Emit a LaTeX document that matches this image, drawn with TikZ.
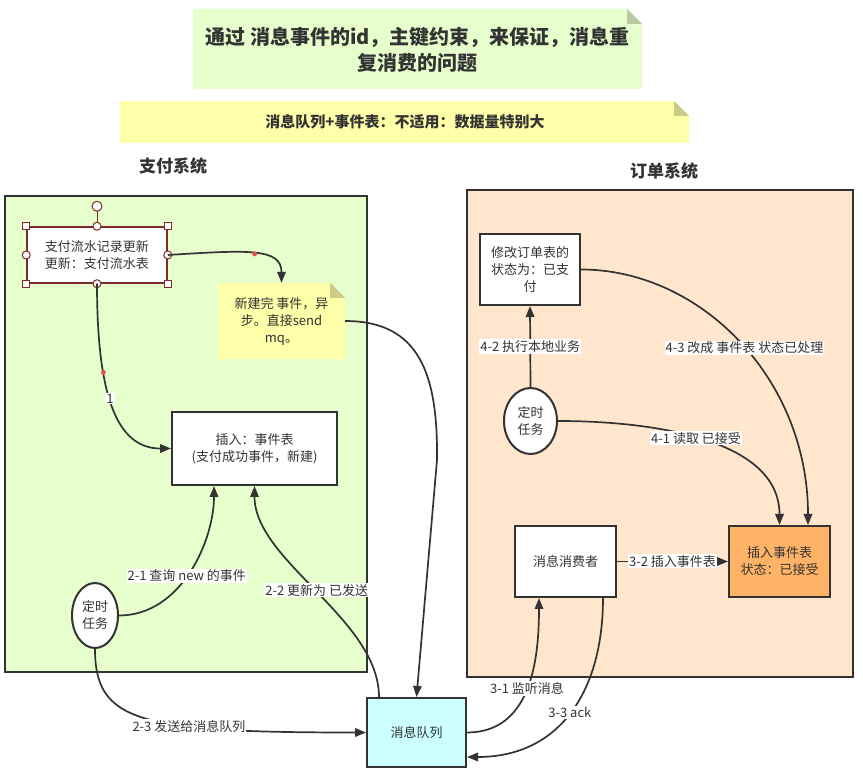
\documentclass[tikz,border=0pt]{standalone}
\usepackage{fontspec}
\setmainfont{Noto Sans CJK SC}
\usetikzlibrary{arrows.meta,shapes.geometric,calc}
\definecolor{txt}{HTML}{333333}
\definecolor{notegreen}{HTML}{E6FFCC}
\definecolor{foldgreen}{HTML}{B8CCA3}
\definecolor{noteyellow}{HTML}{FFFFAA}
\definecolor{foldyellow}{HTML}{CCCC88}
\definecolor{sysgreen}{HTML}{E6FFCC}
\definecolor{sysorange}{HTML}{FFE6CC}
\definecolor{mqcyan}{HTML}{CCFFFF}
\definecolor{ordorange}{HTML}{FFB366}
\definecolor{selred}{HTML}{7F2A2A}
\definecolor{dotred}{HTML}{E05555}
\newcommand{\myfs}[2]{\fontsize{#1}{#2}\selectfont}
\begin{document}
\begin{tikzpicture}[x=1pt,y=-1pt,
  box/.style={draw=txt, line width=2pt, fill=white, text=txt, align=center, font=\myfs{13}{17}, inner sep=0pt},
  sysbox/.style={draw=txt, line width=2pt, inner sep=0pt},
  ell/.style={ellipse, draw=txt, line width=2pt, fill=white, text=txt, align=center, font=\myfs{13}{17}, inner sep=0pt},
  arr/.style={draw=txt, line width=1.7pt, -{Triangle[length=11pt,width=8.5pt]}},
  lbl/.style={fill=white, text=txt, font=\myfs{13}{15}, inner sep=1pt},
  reddot/.style={circle, fill=dotred, inner sep=0pt, minimum size=5pt},
  hsq/.style={draw=selred, fill=white, line width=1pt, inner sep=0pt, minimum size=7pt},
  hci/.style={circle, draw=selred, fill=white, line width=1pt, inner sep=0pt, minimum size=8pt},
  heading/.style={text=txt, font=\bfseries\myfs{17}{20}}
]
\useasboundingbox (0,0) rectangle (863,775);
\fill[white] (0,0) rectangle (863,775);

% title notes
\fill[notegreen] (193,9) -- (627,9) -- (642,24) -- (642,89) -- (193,89) -- cycle;
\fill[foldgreen] (627,9) -- (642,24) -- (627,24) -- cycle;
\node[text=txt, align=center, font=\bfseries\myfs{20}{26}] (title) at (417.5,50) {通过 消息事件的id，主键约束，来保证，消息重\\复消费的问题};

\fill[noteyellow] (120,101) -- (674,101) -- (689,116) -- (689,143) -- (120,143) -- cycle;
\fill[foldyellow] (674,101) -- (689,116) -- (674,116) -- cycle;
\node[text=txt, font=\bfseries\myfs{15}{17}] (sub) at (405,122) {消息队列+事件表：不适用：数据量特别大};

% headings
\node[heading] (payh) at (173,166) {支付系统};
\node[heading] (ordh) at (664,171) {订单系统};

% containers
\node[sysbox, fill=sysgreen, minimum width=362pt, minimum height=476pt] (paysys) at (186,434) {};
\node[sysbox, fill=sysorange, minimum width=386pt, minimum height=487pt] (ordsys) at (660,433.5) {};

% left nodes
\node[box, draw=selred, line width=1.5pt, minimum width=140pt, minimum height=56pt] (pay) at (97,255) {支付流水记录更新\\更新：支付流水表};
\node[minimum width=127pt, minimum height=76pt, inner sep=0pt] (note) at (281.5,321) {};
\fill[noteyellow] (note.north west) -- ($(note.north east)+(-15pt,0)$) -- ($(note.north east)+(0,-15pt)$) -- (note.south east) -- (note.south west) -- cycle;
\fill[foldyellow] ($(note.north east)+(-15pt,0)$) -- ($(note.north east)+(0,-15pt)$) -- ($(note.north east)+(-15pt,-15pt)$) -- cycle;
\node[text=txt, align=center, font=\myfs{13}{17}] (notetext) at (note) {新建完 事件，异\\步。直接send\\mq。};
\node[box, minimum width=165pt, minimum height=73pt] (ins) at (254.5,448.5) {插入：事件表\\(支付成功事件，新建)};
\node[ell, minimum width=46pt, minimum height=65pt] (tl) at (95,615.5) {定时\\任务};
\node[box, fill=mqcyan, minimum width=99pt, minimum height=69pt] (mq) at (416.5,732.5) {消息队列};

% right nodes
\node[box, minimum width=100pt, minimum height=71pt] (up) at (530,269.5) {修改订单表的\\状态为：已支\\付};
\node[ell, minimum width=53pt, minimum height=66pt] (tr) at (530.5,421) {定时\\任务};
\node[box, minimum width=101pt, minimum height=71pt] (cons) at (565.5,561.5) {消息消费者};
\node[box, fill=ordorange, minimum width=101pt, minimum height=71pt] (ord) at (779.5,561.5) {插入事件表\\状态：已接受};

% selection handles on pay
\draw[selred, line width=1pt] (pay.north) -- ++(0,-16);
\node[hci, minimum size=10pt] (rot) at ($(pay.north)+(0,20pt)$) {};
\foreach \a in {north west, north east, south west, south east} \node[hsq] at (pay.\a) {};
\foreach \a in {north, south, east, west} \node[hci] at (pay.\a) {};

% connectors
\draw[arr] (pay.south) .. controls +(0,110) and +(-55,0) .. (ins.west)
  node[reddot, pos=0.32] {} node[lbl, pos=0.45] {1};
\draw[arr] (pay.east) .. controls +(80,-5) and +(0,-35) .. (note.north)
  node[reddot, pos=0.5] {};
\draw[arr] (note.east) .. controls (420,321) and (438,375) .. (437,460) -- (mq.north);
\draw[arr] (tl.east) .. controls +(62,0) and +(0,55) .. ([xshift=-40.5pt]ins.south)
  node[lbl, pos=0.47] {2-1 查询 new 的事件};
\draw[arr] ([xshift=-37.5pt]mq.north) .. controls +(0,-78) and +(0,75) .. (ins.south)
  node[lbl, pos=0.5] {2-2 更新为 已发送};
\draw[arr] (tl.south) .. controls +(0,73) and +(-227,0) .. (mq.west)
  node[lbl, pos=0.65] {2-3 发送给消息队列};
\draw[arr] (mq.east) .. controls +(64,0) and +(0,62) .. ([xshift=-26.5pt]cons.south)
  node[lbl, pos=0.5] {3-1 监听消息};
\draw[arr] ([xshift=37.5pt]cons.south) .. controls +(0,93) and +(93,0) .. ([yshift=-24.5pt]mq.east)
  node[lbl, pos=0.5] {3-3 ack};
\draw[arr] (cons.east) -- (ord.west) node[lbl, midway] {3-2 插入事件表};
\draw[arr] (tr.east) .. controls +(94,0) and +(0,-86) .. (ord.north)
  node[lbl, pos=0.47] {4-1 读取 已接受};
\draw[arr] (tr.north) -- (up.south) node[lbl, midway] {4-2 执行本地业务};
\draw[arr] (up.east) .. controls +(120,0) and +(0,-146) .. ([xshift=28.5pt]ord.north)
  node[lbl, pos=0.52] {4-3 改成 事件表 状态已处理};
\end{tikzpicture}
\end{document}
